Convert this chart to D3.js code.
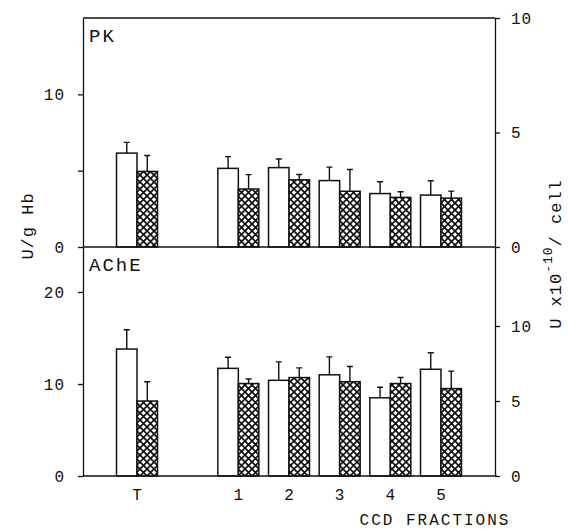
<!DOCTYPE html>
<html>
<head>
<meta charset="utf-8">
<script src="https://cdn.jsdelivr.net/npm/d3@7"></script>
<style>
body { margin: 0; background: #fff; }
text { font-family: "Liberation Mono", monospace; fill: #111; }
</style>
</head>
<body>
<svg id="chart" width="568" height="531"></svg>
<script>
// slots on the x axis, "gap" is the empty slot between T and fraction 1
var slots = ["T", "gap", "1", "2", "3", "4", "5"];
var fractions = ["T", "1", "2", "3", "4", "5"];

// PK, U/g Hb (mean and SD, SD drawn upward only)
var pkOpen = [6.15, 5.15, 5.2, 4.35, 3.5, 3.4];
var pkOpenSd = [0.7, 0.77, 0.56, 0.88, 0.77, 0.94];
var pkHatch = [4.95, 3.8, 4.4, 3.65, 3.25, 3.2];
var pkHatchSd = [1.04, 0.94, 0.35, 1.43, 0.37, 0.46];

// AChE, U/g Hb
var acheOpen = [13.8, 11.7, 10.4, 11.0, 8.5, 11.6];
var acheOpenSd = [2.1, 1.2, 2.0, 1.95, 1.15, 1.8];
var acheHatch = [8.15, 10.05, 10.7, 10.25, 10.05, 9.5];
var acheHatchSd = [2.1, 0.5, 1.05, 1.65, 0.65, 1.9];

var pkLeftTicks = [0, 5, 10];
var pkRightTicks = [0, 5, 10];
var acheLeftTicks = [0, 10, 20];
var acheRightTicks = [0, 5, 10];

var svg = d3.select("#chart");
var ink = "#111";

var plotL = 83, plotR = 495, plotT = 18, plotMid = 247, plotB = 476;

var x0 = d3.scaleBand().domain(slots).range([plotL, plotR]).paddingInner(0).paddingOuter(0.566);
var x1 = d3.scaleBand().domain(["open", "hatch"]).range([0, x0.bandwidth()]).paddingInner(0).paddingOuter(0.236);

// crosshatch fill
var pat = svg.append("defs").append("pattern")
	.attr("id", "xhatch")
	.attr("patternUnits", "userSpaceOnUse")
	.attr("width", 7).attr("height", 7);
pat.append("rect").attr("width", 7).attr("height", 7).attr("fill", "#fff");
pat.append("path").attr("d", "M-1,-1L8,8M8,-1L-1,8")
	.attr("stroke", ink).attr("stroke-width", 1.7);

function panel(name, openVals, openSd, hatchVals, hatchSd, yL, yR, leftTicks, rightTicks, yTopPx) {
	var g = svg.append("g");
	var rows = fractions.map(function(f, i) {
		return [
			{ f: f, kind: "open", v: openVals[i], sd: openSd[i] },
			{ f: f, kind: "hatch", v: hatchVals[i], sd: hatchSd[i] }
		];
	});
	var bars = d3.merge(rows);

	// error bars first, bars drawn on top
	g.selectAll(".err").data(bars).enter().append("path")
		.attr("class", "err")
		.attr("d", function(d) {
			var cx = x0(d.f) + x1(d.kind) + x1.bandwidth() / 2;
			var yt = yL(d.v + d.sd);
			return "M" + cx + "," + yL(d.v) + "V" + yt + "M" + (cx - 3) + "," + yt + "H" + (cx + 3);
		})
		.attr("fill", "none").attr("stroke", ink).attr("stroke-width", 1.4);

	g.selectAll(".bar").data(bars).enter().append("rect")
		.attr("class", "bar")
		.attr("x", function(d) { return x0(d.f) + x1(d.kind); })
		.attr("y", function(d) { return yL(d.v); })
		.attr("width", x1.bandwidth())
		.attr("height", function(d) { return yL(0) - yL(d.v); })
		.attr("fill", function(d) { return d.kind == "open" ? "#fff" : "url(#xhatch)"; })
		.attr("stroke", ink).attr("stroke-width", 1.5);

	var ax = g.append("g").attr("transform", "translate(" + plotL + ",0)")
		.call(d3.axisLeft(yL).tickValues(leftTicks).tickSize(5).tickSizeOuter(0).tickPadding(13)
			.tickFormat(function(d) { return d == 5 ? "" : d; }));
	var axr = g.append("g").attr("transform", "translate(" + plotR + ",0)")
		.call(d3.axisRight(yR).tickValues(rightTicks).tickSize(5).tickSizeOuter(0).tickPadding(11));
	[ax, axr].forEach(function(a) {
		a.selectAll("path, line").attr("stroke", ink).attr("stroke-width", 1.3);
		a.selectAll("text").style("font-size", "16px").style("letter-spacing", "1px").attr("fill", ink);
	});

	g.append("text")
		.attr("x", plotL + 6).attr("y", yTopPx + 24)
		.style("font-size", "19px").style("letter-spacing", "2px")
		.text(name);
}

var pkY = d3.scaleLinear().domain([0, 15]).range([plotMid, plotT]);
var pkYR = d3.scaleLinear().domain([0, 10]).range([plotMid, plotT]);
var acheY = d3.scaleLinear().domain([0, (plotB - plotMid) / 9.2]).range([plotB, plotMid]);
var acheYR = d3.scaleLinear().domain([0, (plotB - plotMid) / 15]).range([plotB, plotMid]);

panel("PK", pkOpen, pkOpenSd, pkHatch, pkHatchSd, pkY, pkYR, pkLeftTicks, pkRightTicks, plotT);
panel("AChE", acheOpen, acheOpenSd, acheHatch, acheHatchSd, acheY, acheYR, acheLeftTicks, acheRightTicks, plotMid);

// frame lines
svg.append("path").attr("d", "M" + plotL + "," + plotT + "H" + plotR)
	.attr("stroke", ink).attr("stroke-width", 1.3);
svg.append("path").attr("d", "M" + plotL + "," + plotMid + "H" + plotR)
	.attr("stroke", ink).attr("stroke-width", 1.3);

// x axis
var xa = svg.append("g").attr("transform", "translate(0," + plotB + ")")
	.call(d3.axisBottom(x0).tickValues(fractions).tickSize(0).tickPadding(13));
xa.selectAll("path").attr("stroke", ink).attr("stroke-width", 1.3)
	.attr("d", "M" + plotL + ",0H" + (plotR + 2));
xa.selectAll("text").style("font-size", "16px").attr("fill", ink);

svg.append("text")
	.attr("x", 435).attr("y", 525)
	.attr("text-anchor", "middle")
	.style("font-size", "16px").style("letter-spacing", "2px")
	.text("CCD FRACTIONS");

// y axis titles
svg.append("text")
	.attr("transform", "translate(33,226) rotate(-90)")
	.attr("text-anchor", "middle")
	.style("font-size", "17px").style("letter-spacing", "1px")
	.text("U/g Hb");

var rt = svg.append("text")
	.attr("transform", "translate(561,254) rotate(-90)")
	.attr("text-anchor", "middle")
	.style("font-size", "17px").style("letter-spacing", "1px");
rt.append("tspan").text("U x10");
rt.append("tspan").attr("dy", -9).style("font-size", "13px").text("-10");
rt.append("tspan").attr("dy", 9).text("/ cell");
</script>
</body>
</html>
